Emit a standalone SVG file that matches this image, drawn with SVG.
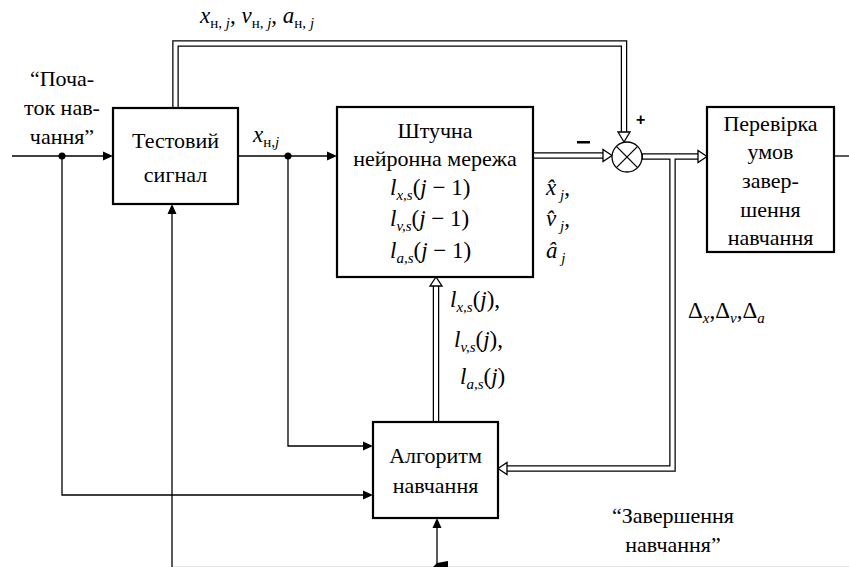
<svg xmlns="http://www.w3.org/2000/svg" width="849" height="567" viewBox="0 0 849 567">
<style>
.box{fill:#fff;stroke:#000;stroke-width:2.2}
.ln{fill:none;stroke:#000;stroke-width:1.3}
.dbo{fill:none;stroke:#000;stroke-width:6.5;stroke-linejoin:miter}
.dbi{fill:none;stroke:#fff;stroke-width:4;stroke-linejoin:miter}
.oh{fill:#fff;stroke:#000;stroke-width:1.3;stroke-linejoin:miter}
.fh{fill:#000;stroke:none}
text{font-family:'Liberation Serif','Times New Roman',serif;font-size:22px;fill:#000}
.m{font-size:23px}
.c{text-anchor:middle}
.i{font-style:italic}
.s{font-size:15px}
</style>
<rect width="849" height="567" fill="#fff"/>
<line x1="172" y1="566.5" x2="849" y2="566.5" stroke="#e2e2e2" stroke-width="1"/>

<g id="connectors">
  <path class="dbo" d="M175.5,108 V43.5 H624 V133"/>
  <path class="dbo" d="M533,155.5 H603"/>
  <path class="dbo" d="M642,156.5 H698"/>
  <path class="dbo" d="M672.5,156.5 V468.5 H507"/>
  <path class="dbo" d="M436,422 V286"/>
  <path class="dbi" d="M175.5,109 V43.5 H624 V134"/>
  <path class="dbi" d="M532,155.5 H604"/>
  <path class="dbi" d="M643,156.5 H699"/>
  <path class="dbi" d="M672.5,156.5 V468.5 H506"/>
  <path class="dbi" d="M436,421 V285"/>
  <polygon class="oh" points="624,142 618,132 630,132"/>
  <polygon class="oh" points="612,155.5 603,149.5 603,161.5"/>
  <polygon class="oh" points="707,156.5 698,150.5 698,162.5"/>
  <polygon class="oh" points="498,468.5 507,462.5 507,474.5"/>
  <polygon class="oh" points="436,277 430,286 442,286"/>
  <path class="ln" d="M12,156 H104"/>
  <polygon class="fh" points="113,156 103,151.5 103,160.5"/>
  <path class="ln" d="M62,156 V495 H364"/>
  <polygon class="fh" points="373,495 363,490.5 363,499.5"/>
  <path class="ln" d="M238,156 H328"/>
  <polygon class="fh" points="337,156 327,151.5 327,160.5"/>
  <path class="ln" d="M288,156 V446 H364"/>
  <polygon class="fh" points="373,446 363,441.5 363,450.5"/>
  <circle cx="62" cy="156" r="3.5"/>
  <circle cx="288" cy="156" r="3.5"/>
  <path class="ln" d="M172,567 V213"/>
  <polygon class="fh" points="172,204 167.5,214 176.5,214"/>
  <path class="ln" d="M437,567 V527"/>
  <polygon class="fh" points="437,518 432.5,528 441.5,528"/>
  <polygon class="fh" points="433,567 437,563 448,561 448,567"/>
  <path class="ln" d="M834,156 H849"/>
</g>

<g id="test-signal">
  <rect class="box" x="113" y="108" width="125" height="96"/>
  <text class="c" x="175.5" y="148">Тестовий</text>
  <text class="c" x="175.5" y="182">сигнал</text>
</g>

<g id="neural-net">
  <rect class="box" x="337" y="107" width="196" height="170"/>
  <text class="c" x="435" y="138">Штучна</text>
  <text class="c" x="435" y="166">нейронна мережа</text>
  <text class="m" x="390" y="195"><tspan class="i">l</tspan><tspan class="s i" dy="5">x,s</tspan><tspan dy="-5">(</tspan><tspan class="i">j</tspan><tspan> − 1)</tspan></text>
  <text class="m" x="390" y="226"><tspan class="i">l</tspan><tspan class="s i" dy="5">v,s</tspan><tspan dy="-5">(</tspan><tspan class="i">j</tspan><tspan> − 1)</tspan></text>
  <text class="m" x="390" y="258"><tspan class="i">l</tspan><tspan class="s i" dy="5">a,s</tspan><tspan dy="-5">(</tspan><tspan class="i">j</tspan><tspan> − 1)</tspan></text>
</g>

<g id="summator">
  <circle cx="627" cy="157" r="15" fill="#fff" stroke="#000" stroke-width="1.3"/>
  <path class="ln" d="M616.4,146.4 L637.6,167.6 M637.6,146.4 L616.4,167.6"/>
  <text x="636" y="125" style="font-family:'Liberation Sans',Arial,sans-serif;font-size:16px;font-weight:bold">+</text>
  <rect x="577" y="141" width="13" height="2.5" fill="#000"/>
</g>

<g id="check">
  <rect class="box" x="707" y="107" width="127" height="145"/>
  <text class="c" x="770.5" y="131">Перевірка</text>
  <text class="c" x="770.5" y="159">умов</text>
  <text class="c" x="770.5" y="188">завер-</text>
  <text class="c" x="770.5" y="217">шення</text>
  <text class="c" x="770.5" y="245">навчання</text>
</g>

<g id="algorithm">
  <rect class="box" x="373" y="422" width="125" height="96"/>
  <text class="c" x="435.5" y="463">Алгоритм</text>
  <text class="c" x="435.5" y="493">навчання</text>
</g>

<g id="labels">
  <text class="c" x="62" y="86">“Поча-</text>
  <text class="c" x="62" y="115">ток нав-</text>
  <text class="c" x="62" y="144">чання”</text>
  <text class="m" x="200" y="23"><tspan class="i">x</tspan><tspan class="s" dy="5">н, </tspan><tspan class="s i">j</tspan><tspan dy="-5">, </tspan><tspan class="i">v</tspan><tspan class="s" dy="5">н, </tspan><tspan class="s i">j</tspan><tspan dy="-5">, </tspan><tspan class="i">a</tspan><tspan class="s" dy="5">н, </tspan><tspan class="s i">j</tspan></text>
  <text class="m" x="253" y="142"><tspan class="i">x</tspan><tspan class="s" dy="5">н,</tspan><tspan class="s i">j</tspan></text>
  <text class="m" x="546" y="195"><tspan class="i">x̂</tspan><tspan class="s i" dy="5"> j</tspan><tspan dy="-5">,</tspan></text>
  <text class="m" x="546" y="226"><tspan class="i">v̂</tspan><tspan class="s i" dy="5"> j</tspan><tspan dy="-5">,</tspan></text>
  <text class="m" x="546" y="258"><tspan class="i">â</tspan><tspan class="s i" dy="5"> j</tspan></text>
  <text class="m" x="450" y="307"><tspan class="i">l</tspan><tspan class="s i" dy="5">x,s</tspan><tspan dy="-5">(</tspan><tspan class="i">j</tspan><tspan>),</tspan></text>
  <text class="m" x="454" y="347"><tspan class="i">l</tspan><tspan class="s i" dy="5">v,s</tspan><tspan dy="-5">(</tspan><tspan class="i">j</tspan><tspan>),</tspan></text>
  <text class="m" x="460" y="384"><tspan class="i">l</tspan><tspan class="s i" dy="5">a,s</tspan><tspan dy="-5">(</tspan><tspan class="i">j</tspan><tspan>)</tspan></text>
  <text class="m" x="688" y="318"><tspan>Δ</tspan><tspan class="s i" dy="5">x</tspan><tspan dy="-5">,Δ</tspan><tspan class="s i" dy="5">v</tspan><tspan dy="-5">,Δ</tspan><tspan class="s i" dy="5">a</tspan></text>
  <text class="c" x="673" y="523">“Завершення</text>
  <text class="c" x="673" y="552">навчання”</text>
</g>
</svg>
